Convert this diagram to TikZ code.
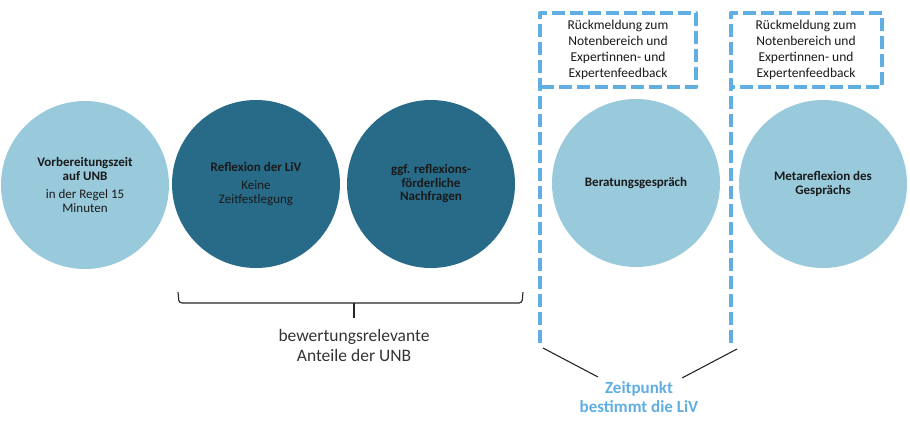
\documentclass[tikz,border=0pt]{standalone}
\usepackage{fontspec}
\setmainfont{Carlito}
\definecolor{lightc}{RGB}{153,202,220}
\definecolor{darkc}{RGB}{40,107,136}
\definecolor{dashc}{RGB}{96,174,226}
\definecolor{txt}{RGB}{25,25,25}
\begin{document}
\begin{tikzpicture}[x=1pt,y=-1pt,
  circ/.style={circle,minimum size=168pt,inner sep=0pt,text=txt,align=center,font=\fontsize{13}{14.5}\selectfont},
  lightcirc/.style={circ,fill=lightc},
  darkcirc/.style={circ,fill=darkc},
  dashbox/.style={draw=dashc,line width=4.5pt,dash pattern=on 13pt off 5pt,line join=round},
  boxtext/.style={align=center,text=txt,font=\fontsize{13.5}{16}\selectfont},
  thinline/.style={draw=black!85,line width=1.1pt}]
\useasboundingbox (0,0) rectangle (910,429);
% circles
\node[lightcirc] (c1) at (85,185) {\textbf{Vorbereitungszeit}\\[-1pt]\textbf{auf UNB}\\[4pt]in der Regel 15\\[-1pt]Minuten};
\node[darkcirc] (c2) at (256,184) {\textbf{Reflexion der LiV}\\[4pt]Keine\\[-1pt]Zeitfestlegung};
\node[darkcirc] (c3) at (431,184) {\textbf{ggf. reflexions-}\\[-1pt]\textbf{förderliche}\\[-1pt]\textbf{Nachfragen}};
\node[lightcirc] (c4) at (636,183) {\textbf{Beratungsgespräch}};
\node[lightcirc] (c5) at (823,184) {\textbf{Metareflexion des}\\[-1pt]\textbf{Gesprächs}};
% dashed frames
\draw[dashbox] (540,343) -- (540,13) -- (696,13) -- (696,87) -- (540,87);
\draw[dashbox] (731,343) -- (731,13) -- (882,13) -- (882,87) -- (731,87);
\node[boxtext] (b1) at (618,50) {Rückmeldung zum\\Notenbereich und\\Expertinnen- und\\Expertenfeedback};
\node[boxtext] (b2) at (806,50) {Rückmeldung zum\\Notenbereich und\\Expertinnen- und\\Expertenfeedback};
% brace
\coordinate (bl) at (178,292);
\coordinate (br) at (523,292);
\coordinate (bm) at (354,303);
\coordinate (bt) at (354,318);
\draw[thinline,rounded corners=3pt] (bl) -- (179,303) -- (522,303) -- (br);
\draw[thinline] (bm) -- (bt);
\node[align=center,text=black!80,font=\fontsize{17.5}{20}\selectfont] (lab1) at (354,345) {bewertungsrelevante\\Anteile der UNB};
% Zeitpunkt label
\node[align=center,text=dashc,font=\bfseries\fontsize{17}{19.5}\selectfont] (lab2) at (639,397) {Zeitpunkt\\bestimmt die LiV};
\coordinate (l1) at (543,348);
\coordinate (l2) at (598,377);
\coordinate (r1) at (682,378);
\coordinate (r2) at (737,349);
\draw[thinline] (l1) -- (l2);
\draw[thinline] (r1) -- (r2);
\end{tikzpicture}
\end{document}
